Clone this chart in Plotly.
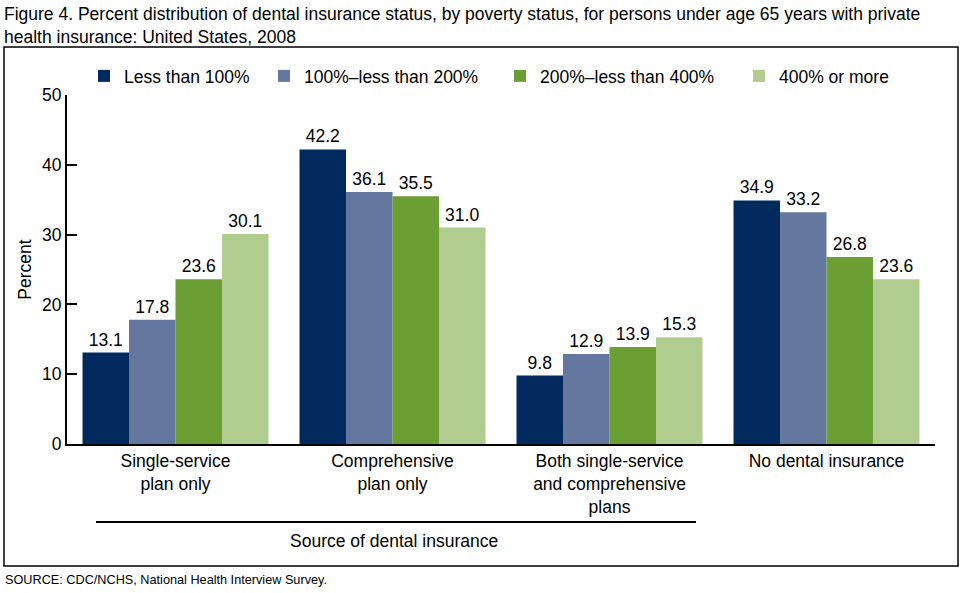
import plotly.graph_objects as go

categories = ["Single-service<br>plan only", "Comprehensive<br>plan only",
              "Both single-service<br>and comprehensive<br>plans", "No dental insurance"]
series_names = ["Less than 100%", "100%\u2013less than 200%", "200%\u2013less than 400%", "400% or more"]
less_100 = [13.1, 42.2, 9.8, 34.9]
pct_100_200 = [17.8, 36.1, 12.9, 33.2]
pct_200_400 = [23.6, 35.5, 13.9, 26.8]
pct_400_more = [30.1, 31.0, 15.3, 23.6]
series_values = [less_100, pct_100_200, pct_200_400, pct_400_more]
colors = ["#012B5E", "#64789F", "#6B9E33", "#B0CC8E"]
y_ticks = [0, 10, 20, 30, 40, 50]

W, H = 960, 593
ML, MR, MT, MB = 67, 25, 95, 149
PW = W - ML - MR
PH = H - MT - MB

def px_x(p):
    return (p - ML) / PW

def px_y(p):
    return (H - MB - p) / PH

FONT = "Arial, Liberation Sans, sans-serif"
FS = 17.5

fig = go.Figure()
legend_names = ["legend", "legend2", "legend3", "legend4"]
legend_x_px = [84, 264, 500, 739]
for name, vals, col, lg in zip(series_names, series_values, colors, legend_names):
    fig.add_trace(go.Bar(
        x=categories, y=vals, name=name, marker=dict(color=col, line=dict(width=0)),
        text=vals, texttemplate="%{y:.1f}", textposition="outside",
        textfont=dict(size=FS, color="black", family=FONT), cliponaxis=False,
        legend=lg,
    ))

layout_legends = {}
for lg, lx in zip(legend_names, legend_x_px):
    layout_legends[lg] = dict(
        x=lx / W, xref="container", xanchor="left",
        y=1 - 76 / H, yref="container", yanchor="middle",
        orientation="h", font=dict(size=FS, family=FONT, color="black"),
        bgcolor="rgba(0,0,0,0)", borderwidth=0,
    )

fig.update_layout(
    width=W, height=H,
    margin=dict(l=ML, r=MR, t=MT, b=MB, autoexpand=False),
    paper_bgcolor="white", plot_bgcolor="white",
    font=dict(family=FONT, size=FS, color="black"),
    barmode="group", bargap=0.143, bargroupgap=0,
    showlegend=True,
    **layout_legends,
)

fig.update_xaxes(
    showline=True, linecolor="black", linewidth=2, automargin=False,
    ticks="", showgrid=False, tickfont=dict(size=FS, family=FONT, color="black"),
    range=[-0.5, 3.5],
)
fig.update_yaxes(
    range=[0, 50], tickvals=y_ticks, showgrid=False, zeroline=False, automargin=False,
    showline=True, linecolor="black", linewidth=2,
    ticks="inside", ticklen=10, tickwidth=2, tickcolor="black",
    tickfont=dict(size=FS, family=FONT, color="black"),
    title=dict(text="Percent", font=dict(size=FS, family=FONT, color="black"), standoff=6),
)

# title
fig.add_annotation(
    text="Figure 4. Percent distribution of dental insurance status, by poverty status, for persons under age 65 years with private<br>health insurance: United States, 2008",
    xref="paper", yref="paper", x=px_x(2), y=px_y(2), xanchor="left", yanchor="top", align="left",
    showarrow=False, font=dict(size=FS, family=FONT, color="black"),
)
# outer border
fig.add_shape(type="rect", xref="paper", yref="paper",
              x0=px_x(4), x1=px_x(958), y0=px_y(566), y1=px_y(47),
              line=dict(color="black", width=1.5), fillcolor="rgba(0,0,0,0)", layer="below")
# bracket line under the first three categories
fig.add_shape(type="line", xref="paper", yref="paper",
              x0=px_x(96), x1=px_x(696), y0=px_y(522), y1=px_y(522),
              line=dict(color="black", width=2))
fig.add_annotation(text="Source of dental insurance", xref="paper", yref="paper",
                   x=px_x(394), y=px_y(541), xanchor="center", yanchor="middle",
                   showarrow=False, font=dict(size=FS, family=FONT, color="black"))
fig.add_annotation(text="SOURCE: CDC/NCHS, National Health Interview Survey.", xref="paper", yref="paper",
                   x=px_x(3), y=px_y(580), xanchor="left", yanchor="middle",
                   showarrow=False, font=dict(size=12.7, family=FONT, color="black"))

fig.write_html("out.html", config={"displayModeBar": False},
               post_script="document.body.style.margin='0';")
